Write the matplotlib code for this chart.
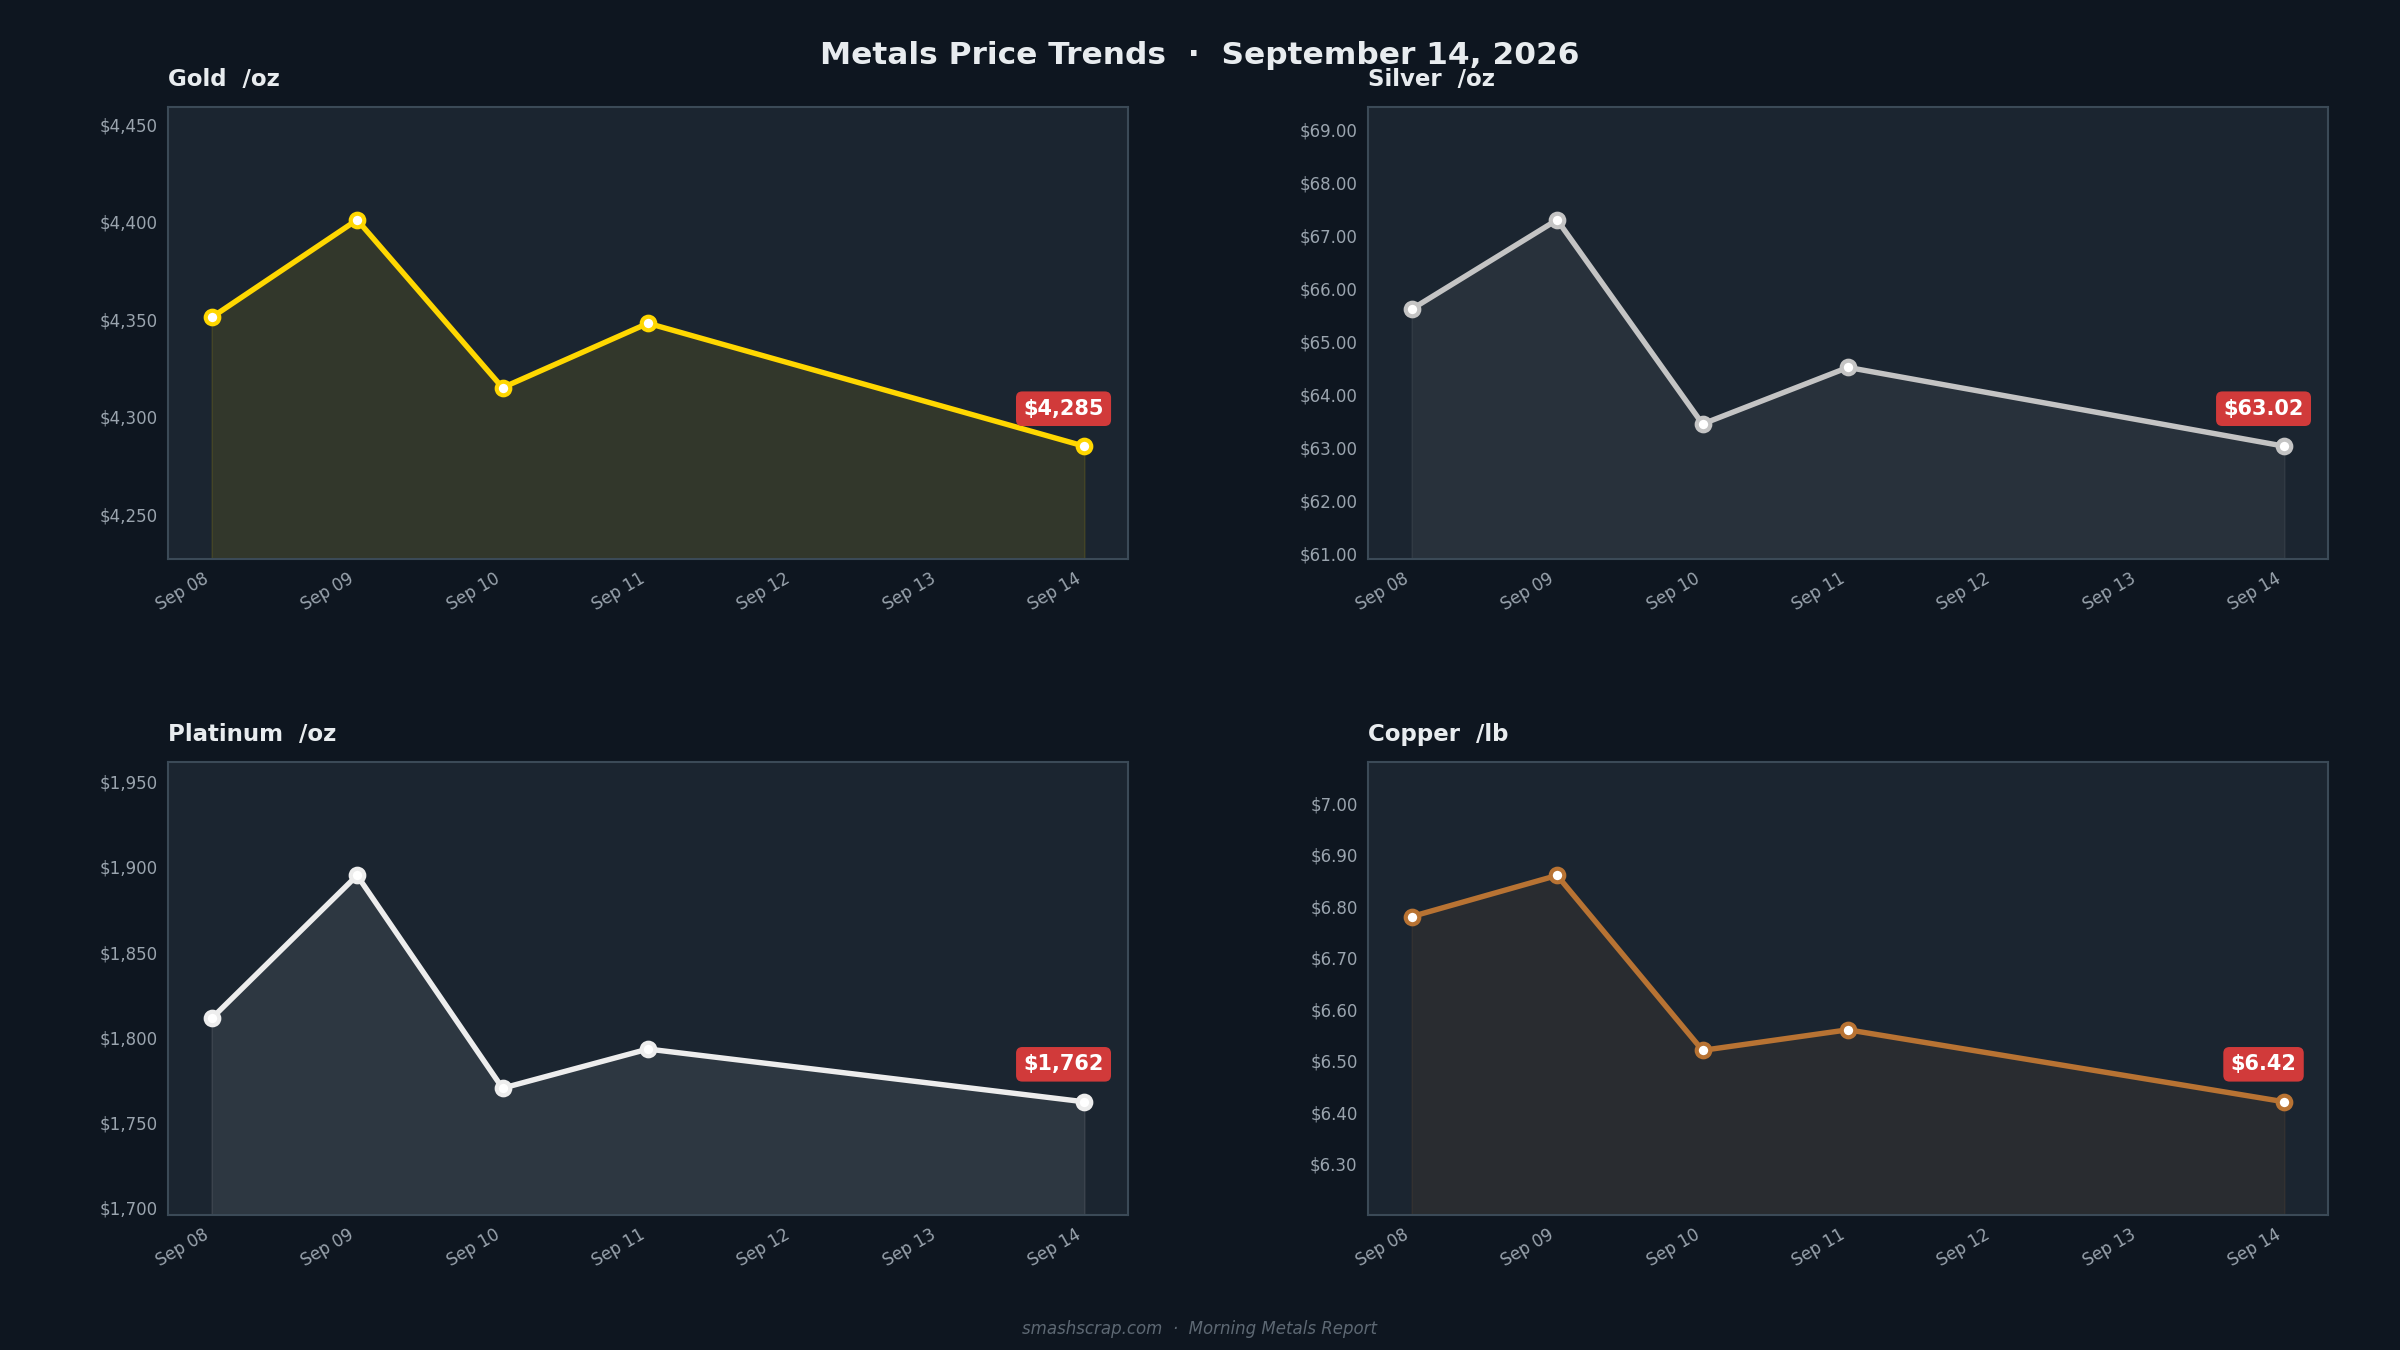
import numpy as np
import matplotlib
matplotlib.use("Agg")
import matplotlib.pyplot as plt
import matplotlib.dates as mdates
import matplotlib.ticker as mticker

# data
dates = np.array(["2026-09-08", "2026-09-09", "2026-09-10", "2026-09-11", "2026-09-14"],
                 dtype="datetime64[D]")
gold = [4351, 4401, 4315, 4348, 4285]
silver = [65.61, 67.30, 63.44, 64.51, 63.02]
platinum = [1811, 1895, 1770, 1793, 1762]
copper = [6.78, 6.86, 6.52, 6.56, 6.42]

names = ["Gold  /oz", "Silver  /oz", "Platinum  /oz", "Copper  /lb"]
colors = ["#FFD700", "#C4C4C4", "#EDEDED", "#B87333"]
fill_alpha = [0.10, 0.08, 0.09, 0.09]
tick_steps = [50, 1.0, 50, 0.1]
decimals = [0, 2, 0, 2]

BG = "#0e1620"
PANEL = "#1b2530"
SPINE = "#3b4a57"
TICK = "#9aa4ae"
TEXT = "#e8ecef"

series = [gold, silver, platinum, copper]

fig, axes = plt.subplots(2, 2, figsize=(16, 9), dpi=150)
fig.patch.set_facecolor(BG)
plt.subplots_adjust(left=0.07, right=0.97, top=0.921, bottom=0.100,
                    wspace=0.25, hspace=0.448)

x = dates.astype("O")
x_num = mdates.date2num(x)

for ax, vals, name, col, fa, step, dec in zip(axes.flat, series, names, colors,
                                               fill_alpha, tick_steps, decimals):
    vals = np.array(vals, dtype=float)
    ax.set_facecolor(PANEL)
    rng = vals.max() - vals.min()
    lo, hi = vals.min() - 0.5 * rng, vals.max() + 0.5 * rng
    ax.set_ylim(lo, hi)
    ax.set_xlim(x_num[0] - 0.3, x_num[-1] + 0.3)

    ax.fill_between(x_num, vals, lo, color=col, alpha=fa, lw=0.8, zorder=1)
    ax.plot(x_num, vals, color=col, lw=2.6, zorder=3,
            marker="o", ms=6.5, mfc="white", mec=col, mew=2.0)

    # y ticks inside the limits only
    first = np.ceil(lo / step + 1e-6) * step
    ticks = np.arange(first, hi, step)
    ax.set_yticks(ticks)
    fmt = "${x:,.0f}" if dec == 0 else "${x:,.2f}"
    ax.yaxis.set_major_formatter(mticker.StrMethodFormatter(fmt))

    ax.xaxis.set_major_locator(mdates.DayLocator())
    ax.xaxis.set_major_formatter(mdates.DateFormatter("%b %d"))
    plt.setp(ax.get_xticklabels(), rotation=30, ha="right")
    ax.tick_params(colors=TICK, labelsize=8, length=0, pad=5)

    for s in ax.spines.values():
        s.set_color(SPINE)
        s.set_linewidth(1.0)

    ax.set_title(name, loc="left", color=TEXT, fontsize=11, fontweight="bold", pad=10)

    last = vals[-1]
    label = f"${last:,.0f}" if dec == 0 else f"${last:,.2f}"
    ax.annotate(label, xy=(x_num[-1], last), xytext=(-10, 18), textcoords="offset points",
                ha="center", va="center", color="white", fontsize=10, fontweight="bold",
                bbox=dict(boxstyle="round,pad=0.35,rounding_size=0.3",
                          fc="#d13a3a", ec="none"), zorder=5)

fig.text(0.5, 0.959, "Metals Price Trends  \u00b7  September 14, 2026", ha="center",
         va="center", color=TEXT, fontsize=15, fontweight="bold")
fig.text(0.5, 0.0156, "smashscrap.com  \u00b7  Morning Metals Report", ha="center",
         va="center", color="#5d6873", fontsize=8, style="italic")

plt.savefig("out.png", dpi=150, facecolor=BG)
